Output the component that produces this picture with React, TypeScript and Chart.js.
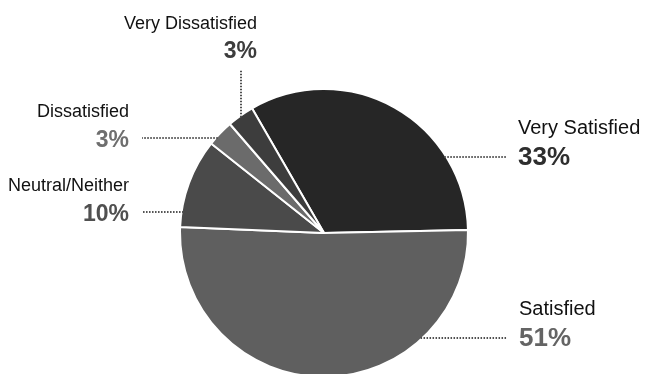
import React, { useEffect, useRef } from "react";
import { Chart, registerables } from "chart.js";

Chart.register(...registerables);

// ---- data ----
const categories = ["Very Satisfied", "Satisfied", "Neutral/Neither", "Dissatisfied", "Very Dissatisfied"];
const percentages = [33, 51, 10, 3, 3];
const sliceColors = ["#262626", "#5f5f5f", "#4a4a4a", "#6b6b6b", "#3d3d3d"];
const percentColors = ["#2e2e2e", "#646464", "#505050", "#6e6e6e", "#3d3d3d"];

// ---- label layout (annotation placement, not data) ----
// side: where the text sits; lead: leader line coordinate (y for left/right, x for top); end: leader end
const labelLayout = [
  { side: "right", lead: 157, end: 506, textX: 518, nameSize: 20, pctSize: 26 },
  { side: "right", lead: 338, end: 507, textX: 519, nameSize: 20, pctSize: 26 },
  { side: "left", lead: 212, end: 143, textX: 129, nameSize: 18, pctSize: 23 },
  { side: "left", lead: 138, end: 142, textX: 129, nameSize: 18, pctSize: 23 },
  { side: "top", lead: 241, end: 70, textX: 257, nameSize: 18, pctSize: 23 },
];

const FONT = "'Liberation Sans', Arial, Helvetica, sans-serif";

const calloutPlugin = {
  id: "callouts",
  afterDraw(chart: any) {
    const ctx = chart.ctx;
    const meta = chart.getDatasetMeta(0);
    meta.data.forEach((arc: any, i: number) => {
      const { x: cx, y: cy, outerRadius: r } = arc.getProps(["x", "y", "outerRadius"], true);
      const L = labelLayout[i];
      ctx.save();
      ctx.strokeStyle = "#4f4f4f";
      ctx.lineWidth = 2;
      ctx.setLineDash([1.5, 1.5]);
      ctx.beginPath();
      let nameY = 0, pctY = 0;
      if (L.side === "top") {
        const dx = L.lead - cx;
        const sy = cy - Math.sqrt(Math.max(r * r - dx * dx, 0));
        ctx.moveTo(L.lead, sy + 2);
        ctx.lineTo(L.lead, L.end);
        nameY = 29;
        pctY = 58;
      } else {
        const dy = L.lead - cy;
        const w = Math.sqrt(Math.max(r * r - dy * dy, 0));
        const sx = L.side === "right" ? cx + w - 2 : cx - w + 2;
        ctx.moveTo(sx, L.lead);
        ctx.lineTo(L.end, L.lead);
        if (L.side === "right") {
          nameY = L.lead - 23;
          pctY = L.lead + 8;
        } else {
          nameY = L.lead - 21;
          pctY = L.lead + 8.5;
        }
      }
      ctx.stroke();
      ctx.setLineDash([]);
      ctx.textAlign = L.side === "right" ? "left" : "right";
      ctx.textBaseline = "alphabetic";
      ctx.fillStyle = "#111111";
      ctx.font = `${L.nameSize}px ${FONT}`;
      ctx.fillText(categories[i], L.textX, nameY);
      ctx.fillStyle = percentColors[i];
      ctx.font = `bold ${L.pctSize}px ${FONT}`;
      ctx.fillText(`${percentages[i]}%`, L.textX, pctY);
      ctx.restore();
    });
  },
};

export default function App() {
  const canvasRef = useRef<HTMLCanvasElement | null>(null);

  useEffect(() => {
    if (!canvasRef.current) return;
    const chart = new Chart(canvasRef.current, {
      type: "pie",
      data: {
        labels: categories,
        datasets: [
          {
            data: percentages,
            backgroundColor: sliceColors,
            borderColor: "#ffffff",
            borderWidth: 2,
            hoverOffset: 0,
            offset: 0,
          },
        ],
      },
      options: {
        responsive: false,
        animation: false,
        rotation: -30,
        radius: 144,
        layout: { padding: { left: 3 } },
        plugins: {
          legend: { display: false },
          tooltip: { enabled: false },
        },
        events: [],
      } as any,
      plugins: [calloutPlugin],
    });
    return () => chart.destroy();
  }, []);

  return (
    <div
      style={{
        position: "fixed",
        left: 0,
        top: 0,
        width: 645,
        height: 374,
        overflow: "hidden",
        background: "#ffffff",
      }}
    >
      <canvas ref={canvasRef} width={645} height={466} style={{ display: "block" }} />
    </div>
  );
}
